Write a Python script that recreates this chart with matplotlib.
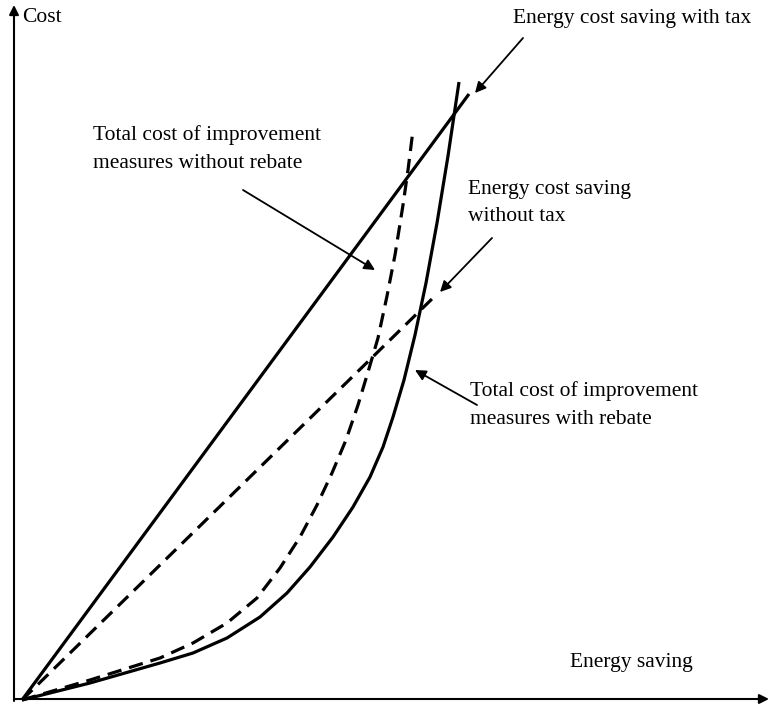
import matplotlib
matplotlib.use("Agg")
import matplotlib.pyplot as plt

# straight lines: energy cost saving
tax_x = [0.0, 4.47]
tax_y = [0.0, 6.06]
notax_x = [0.0, 4.14]
notax_y = [0.0, 4.05]

# total cost of improvement measures with rebate (solid curve)
rebate_x = [0.0, 0.68, 1.38, 1.71, 2.05, 2.38, 2.65, 2.88, 3.11, 3.31, 3.48,
            3.61, 3.71, 3.82, 3.93, 4.04, 4.15, 4.26, 4.37]
rebate_y = [0.0, 0.17, 0.37, 0.47, 0.62, 0.83, 1.07, 1.33, 1.63, 1.93, 2.23,
            2.53, 2.83, 3.20, 3.65, 4.17, 4.77, 5.44, 6.18]

# total cost of improvement measures without rebate (dashed curve)
norebate_x = [0.0, 0.68, 1.38, 1.71, 2.05, 2.35, 2.58, 2.78, 2.95, 3.10, 3.24,
              3.36, 3.46, 3.56, 3.65, 3.73, 3.81, 3.86, 3.91]
norebate_y = [0.0, 0.20, 0.42, 0.57, 0.77, 1.02, 1.32, 1.63, 1.95, 2.27, 2.60,
              2.95, 3.28, 3.62, 4.04, 4.45, 4.95, 5.30, 5.70]

# annotations: text, text position, arrow start, arrow tip
labels = [
    ("Energy cost saving with tax", (4.91, 6.82), (5.01, 6.62), (4.53, 6.07)),
    ("Total cost of improvement\nmeasures without rebate", (0.71, 5.51), (2.21, 5.10), (3.53, 4.30)),
    ("Energy cost saving\nwithout tax", (4.46, 4.97), (4.70, 4.62), (4.18, 4.08)),
    ("Total cost of improvement\nmeasures with rebate", (4.48, 2.95), (4.55, 2.95), (3.93, 3.30)),
]

plt.rcParams['font.family'] = ['Liberation Serif', 'DejaVu Serif']

fig = plt.figure(figsize=(7.7, 7.06), dpi=100)
ax = fig.add_axes([0, 0, 1, 1])
ax.set_xlim(-0.22, 7.48)
ax.set_ylim(-0.06, 7.00)
ax.set_axis_off()

lw = 2.3
dash = (0, (4.5, 2.5))
ax.plot(tax_x, tax_y, color='black', lw=lw, solid_capstyle='butt')
ax.plot(notax_x, notax_y, color='black', lw=lw, ls=dash)
ax.plot(rebate_x, rebate_y, color='black', lw=lw, solid_capstyle='butt',
        solid_joinstyle='round')
ax.plot(norebate_x, norebate_y, color='black', lw=lw, ls=dash)

# axes with arrows
axis_arrow = dict(arrowstyle='-|>', lw=1.5, color='black', mutation_scale=14,
                  shrinkA=0, shrinkB=0)
ax.annotate('', xy=(-0.08, 6.95), xytext=(-0.08, -0.01), arrowprops=axis_arrow)
ax.annotate('', xy=(7.47, 0.01), xytext=(-0.08, 0.01), arrowprops=axis_arrow)

fs = 15.5
ax.text(0.0, 6.82, 'Cost', fontsize=fs, ha='left', va='center')
ax.text(5.48, 0.37, 'Energy saving', fontsize=fs, ha='left', va='center')

for txt, pos, start, tip in labels:
    ax.text(pos[0], pos[1], txt, fontsize=fs, ha='left', va='center',
            linespacing=1.58)
    ax.annotate('', xy=tip, xytext=start,
                arrowprops=dict(arrowstyle='-|>', lw=1.3, color='black',
                                mutation_scale=16, shrinkA=0, shrinkB=0))

fig.savefig('out.png', dpi=100)
